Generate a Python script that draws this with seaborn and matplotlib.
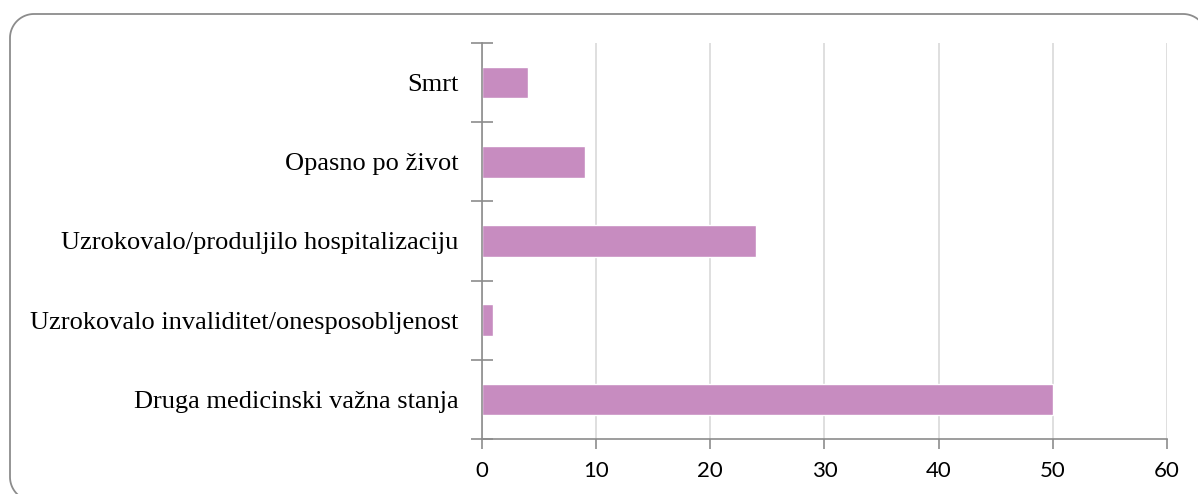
import numpy as np
import pandas as pd
import seaborn as sns
import matplotlib.pyplot as plt
from matplotlib.lines import Line2D
from matplotlib.transforms import IdentityTransform

categories = ["Smrt", "Opasno po život", "Uzrokovalo/produljilo hospitalizaciju",
              "Uzrokovalo invaliditet/onesposobljenost", "Druga medicinski važna stanja"]
counts = [4, 9, 24, 1, 50]
x_ticks = [0, 10, 20, 30, 40, 50, 60]

df = pd.DataFrame({"kategorija": categories, "broj": counts})

sns.set_style("white")
fig = plt.figure(figsize=(11.98, 4.94), dpi=100)
ax = fig.add_axes([0.4023, 0.1113, 0.5718, 0.8017])

sns.barplot(data=df, x="broj", y="kategorija", color="#C78CC0", saturation=1,
            width=0.4, ax=ax)

ax.set_xlim(0, 60)
ax.set_ylim(len(categories) - 0.5, -0.5)
ax.set_xticks(x_ticks)
ax.set_xticklabels([str(t) for t in x_ticks], fontsize=16, family="Lato", color="black")
ax.set_yticklabels(categories, fontsize=19, family="Liberation Serif", color="black")
ax.set_xlabel("")
ax.set_ylabel("")
ax.grid(axis="x", color="#D9D9D9", linewidth=1.2)
ax.set_axisbelow(True)

for s in ["top", "right"]:
    ax.spines[s].set_visible(False)
for s in ["left", "bottom"]:
    ax.spines[s].set_color("#8C8C8C")
    ax.spines[s].set_linewidth(1.2)

# category ticks sit between the bars, crossing the axis
ax.set_yticks([i - 0.5 for i in range(len(categories) + 1)], minor=True)
ax.tick_params(axis="y", which="major", left=False, pad=13.5)
ax.tick_params(axis="y", which="minor", left=True, length=16, width=1.2,
               color="#8C8C8C", direction="inout")
ax.tick_params(axis="x", which="major", bottom=True, length=7, width=1.2,
               color="#8C8C8C", direction="out", pad=9)

# rounded frame (pixels, origin bottom-left); right and bottom run off the canvas
x0, x1, yb, yt, r = 10, 1207, -7, 480, 24
def arc(cx, cy, a0, a1):
    t = np.radians(np.linspace(a0, a1, 30))
    return cx + r * np.cos(t), cy + r * np.sin(t)
parts = [arc(x0 + r, yb + r, 270, 180), arc(x0 + r, yt - r, 180, 90),
         arc(x1 - r, yt - r, 90, 0)]
fx = np.concatenate([p[0] for p in parts] + [[x1]])
fy = np.concatenate([p[1] for p in parts] + [[yb + r]])
fig.add_artist(Line2D(fx, fy, transform=IdentityTransform(), color="#8C8C8C",
                      linewidth=1.3, solid_joinstyle="round"))

fig.savefig("out.png", dpi=100)
